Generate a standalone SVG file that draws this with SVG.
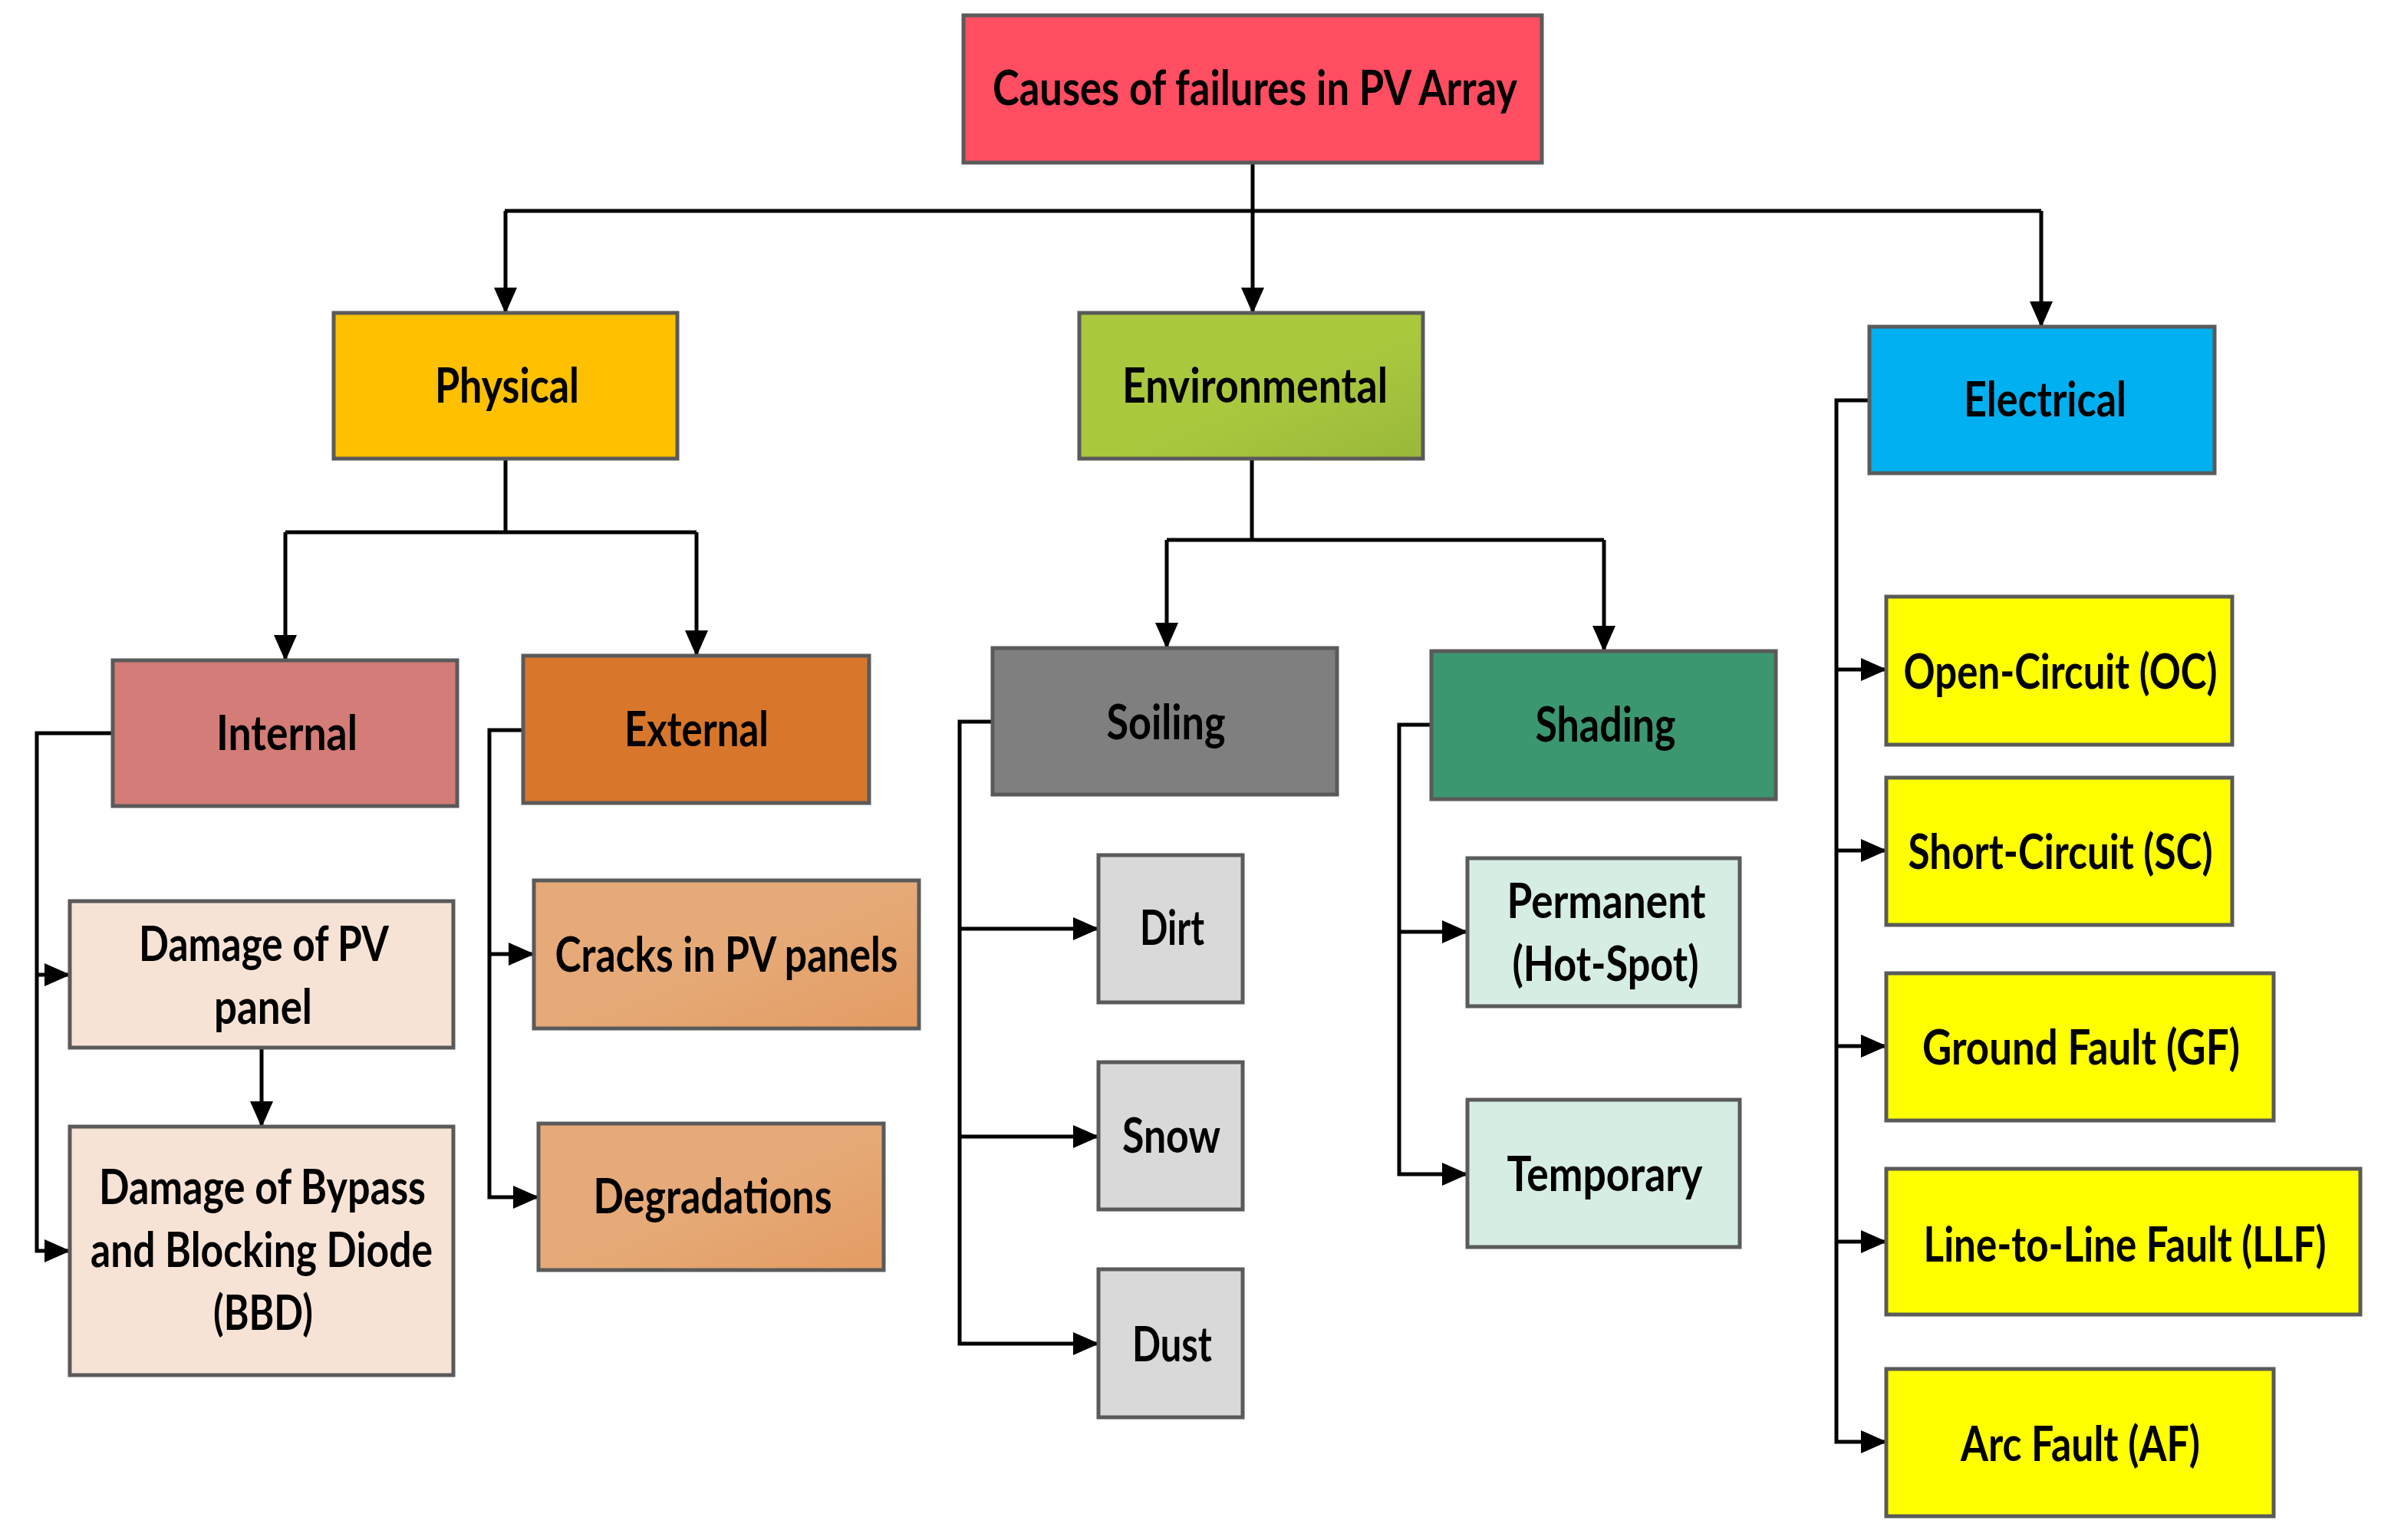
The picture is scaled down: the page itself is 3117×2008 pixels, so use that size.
<svg xmlns="http://www.w3.org/2000/svg" width="3117" height="2008" viewBox="0 0 3117 2008">
<style>
.b{stroke:#5a5a5a;stroke-width:5}
.t{font-family:Lato,"Open Sans","Liberation Sans",sans-serif;font-weight:700;font-size:63px;fill:#000;text-anchor:middle}
.c{fill:none;stroke:#000;stroke-width:5}
</style>
<defs>
<marker id="ah" markerUnits="userSpaceOnUse" markerWidth="34" markerHeight="30" refX="33" refY="15" orient="auto"><path d="M0,0 L34,15 L0,30 z" fill="#000"/></marker>
<linearGradient id="gEnv" x1="0" y1="0" x2="1" y2="1"><stop offset="0.55" stop-color="#aac83e"/><stop offset="1" stop-color="#99b83a"/></linearGradient>
<linearGradient id="gOr" x1="0" y1="0" x2="1" y2="1"><stop offset="0.5" stop-color="#e6aa78"/><stop offset="1" stop-color="#e39c62"/></linearGradient>
</defs>
<g id="connectors">
<path class="c" d="M1633,213 V275 M658,275 H2661"/>
<path class="c" marker-end="url(#ah)" d="M659,275 V408"/>
<path class="c" marker-end="url(#ah)" d="M1633,275 V408"/>
<path class="c" marker-end="url(#ah)" d="M2661,275 V426"/>
<path class="c" d="M659,598 V694 M372,694 H908"/>
<path class="c" marker-end="url(#ah)" d="M372,694 V861"/>
<path class="c" marker-end="url(#ah)" d="M908,694 V855"/>
<path class="c" marker-end="url(#ah)" d="M147,956 H48 V1631 H91"/>
<path class="c" marker-end="url(#ah)" d="M48,1271 H91"/>
<path class="c" marker-end="url(#ah)" d="M341,1366 V1469"/>
<path class="c" marker-end="url(#ah)" d="M682,952 H638 V1561 H702"/>
<path class="c" marker-end="url(#ah)" d="M638,1244 H696"/>
<path class="c" d="M1632,598 V704 M1521,704 H2091"/>
<path class="c" marker-end="url(#ah)" d="M1521,704 V845"/>
<path class="c" marker-end="url(#ah)" d="M2091,704 V849"/>
<path class="c" marker-end="url(#ah)" d="M1294,941 H1251 V1752 H1432"/>
<path class="c" marker-end="url(#ah)" d="M1251,1211 H1432"/>
<path class="c" marker-end="url(#ah)" d="M1251,1482 H1432"/>
<path class="c" marker-end="url(#ah)" d="M1866,945 H1824 V1531 H1913"/>
<path class="c" marker-end="url(#ah)" d="M1824,1215 H1913"/>
<path class="c" marker-end="url(#ah)" d="M2437,522 H2394 V1880 H2459"/>
<path class="c" marker-end="url(#ah)" d="M2394,873 H2459"/>
<path class="c" marker-end="url(#ah)" d="M2394,1109 H2459"/>
<path class="c" marker-end="url(#ah)" d="M2394,1364 H2459"/>
<path class="c" marker-end="url(#ah)" d="M2394,1619 H2459"/>
</g>
<g id="root"><rect class="b" x="1256" y="20" width="754" height="192" fill="#ff4d62" stroke="#6b2a33"/><text class="t" x="1636" y="137" textLength="684" lengthAdjust="spacingAndGlyphs">Causes of failures in PV Array</text></g>
<g id="physical"><rect class="b" x="435" y="408" width="448" height="190" fill="#ffc000"/><text class="t" x="661" y="525" textLength="188" lengthAdjust="spacingAndGlyphs">Physical</text></g>
<g id="environmental"><rect class="b" x="1407" y="408" width="448" height="190" fill="url(#gEnv)"/><text class="t" x="1636" y="525" textLength="346" lengthAdjust="spacingAndGlyphs">Environmental</text></g>
<g id="electrical"><rect class="b" x="2437" y="426" width="450" height="191" fill="#00b0f0"/><text class="t" x="2666" y="543" textLength="212" lengthAdjust="spacingAndGlyphs">Electrical</text></g>
<g id="internal"><rect class="b" x="147" y="861" width="449" height="190" fill="#d47c77"/><text class="t" x="374" y="978" textLength="184" lengthAdjust="spacingAndGlyphs">Internal</text></g>
<g id="external"><rect class="b" x="682" y="855" width="451" height="192" fill="#d8772b"/><text class="t" x="908" y="973" textLength="188" lengthAdjust="spacingAndGlyphs">External</text></g>
<g id="damage-pv"><rect class="b" x="91" y="1175" width="500" height="191" fill="#f7e3d5"/><text class="t" x="344" y="1253" textLength="326" lengthAdjust="spacingAndGlyphs">Damage of PV</text><text class="t" x="343" y="1335" textLength="128" lengthAdjust="spacingAndGlyphs">panel</text></g>
<g id="damage-bbd"><rect class="b" x="91" y="1469" width="500" height="324" fill="#f7e3d5"/><text class="t" x="342" y="1570" textLength="426" lengthAdjust="spacingAndGlyphs">Damage of Bypass</text><text class="t" x="341" y="1652" textLength="446" lengthAdjust="spacingAndGlyphs">and Blocking Diode</text><text class="t" x="343" y="1734" textLength="130" lengthAdjust="spacingAndGlyphs">(BBD)</text></g>
<g id="cracks"><rect class="b" x="696" y="1148" width="502" height="193" fill="url(#gOr)"/><text class="t" x="947" y="1267" textLength="447" lengthAdjust="spacingAndGlyphs">Cracks in PV panels</text></g>
<g id="degradations"><rect class="b" x="702" y="1465" width="450" height="191" fill="url(#gOr)"/><text class="t" x="929" y="1582" textLength="311" lengthAdjust="spacingAndGlyphs">Degradations</text></g>
<g id="soiling"><rect class="b" x="1294" y="845" width="449" height="191" fill="#7f7f7f"/><text class="t" x="1520" y="964" textLength="155" lengthAdjust="spacingAndGlyphs">Soiling</text></g>
<g id="shading"><rect class="b" x="1866" y="849" width="449" height="193" fill="#3c9770"/><text class="t" x="2093" y="967" textLength="183" lengthAdjust="spacingAndGlyphs">Shading</text></g>
<g id="dirt"><rect class="b" x="1432" y="1115" width="188" height="192" fill="#d9d9d9"/><text class="t" x="1528" y="1232" textLength="84" lengthAdjust="spacingAndGlyphs">Dirt</text></g>
<g id="snow"><rect class="b" x="1432" y="1385" width="188" height="192" fill="#d9d9d9"/><text class="t" x="1527" y="1503" textLength="128" lengthAdjust="spacingAndGlyphs">Snow</text></g>
<g id="dust"><rect class="b" x="1432" y="1655" width="188" height="193" fill="#d9d9d9"/><text class="t" x="1528" y="1775" textLength="104" lengthAdjust="spacingAndGlyphs">Dust</text></g>
<g id="permanent"><rect class="b" x="1913" y="1119" width="355" height="193" fill="#d5ede2"/><text class="t" x="2094" y="1197" textLength="259" lengthAdjust="spacingAndGlyphs">Permanent</text><text class="t" x="2093" y="1279" textLength="243" lengthAdjust="spacingAndGlyphs">(Hot-Spot)</text></g>
<g id="temporary"><rect class="b" x="1913" y="1434" width="355" height="192" fill="#d5ede2"/><text class="t" x="2092" y="1553" textLength="255" lengthAdjust="spacingAndGlyphs">Temporary</text></g>
<g id="open-circuit"><rect class="b" x="2459" y="778" width="451" height="193" fill="#ffff00"/><text class="t" x="2686" y="898" textLength="409" lengthAdjust="spacingAndGlyphs">Open-Circuit (OC)</text></g>
<g id="short-circuit"><rect class="b" x="2459" y="1014" width="451" height="192" fill="#ffff00"/><text class="t" x="2686" y="1133" textLength="397" lengthAdjust="spacingAndGlyphs">Short-Circuit (SC)</text></g>
<g id="ground-fault"><rect class="b" x="2459" y="1269" width="505" height="192" fill="#ffff00"/><text class="t" x="2713" y="1388" textLength="414" lengthAdjust="spacingAndGlyphs">Ground Fault (GF)</text></g>
<g id="line-to-line"><rect class="b" x="2459" y="1524" width="618" height="190" fill="#ffff00"/><text class="t" transform="translate(2770,1645) scale(0.72,1)" x="0" y="0" textLength="729" lengthAdjust="spacingAndGlyphs">Line-to-Line Fault (LLF)</text></g>
<g id="arc-fault"><rect class="b" x="2459" y="1785" width="505" height="192" fill="#ffff00"/><text class="t" x="2712" y="1905" textLength="312" lengthAdjust="spacingAndGlyphs">Arc Fault (AF)</text></g>
</svg>
